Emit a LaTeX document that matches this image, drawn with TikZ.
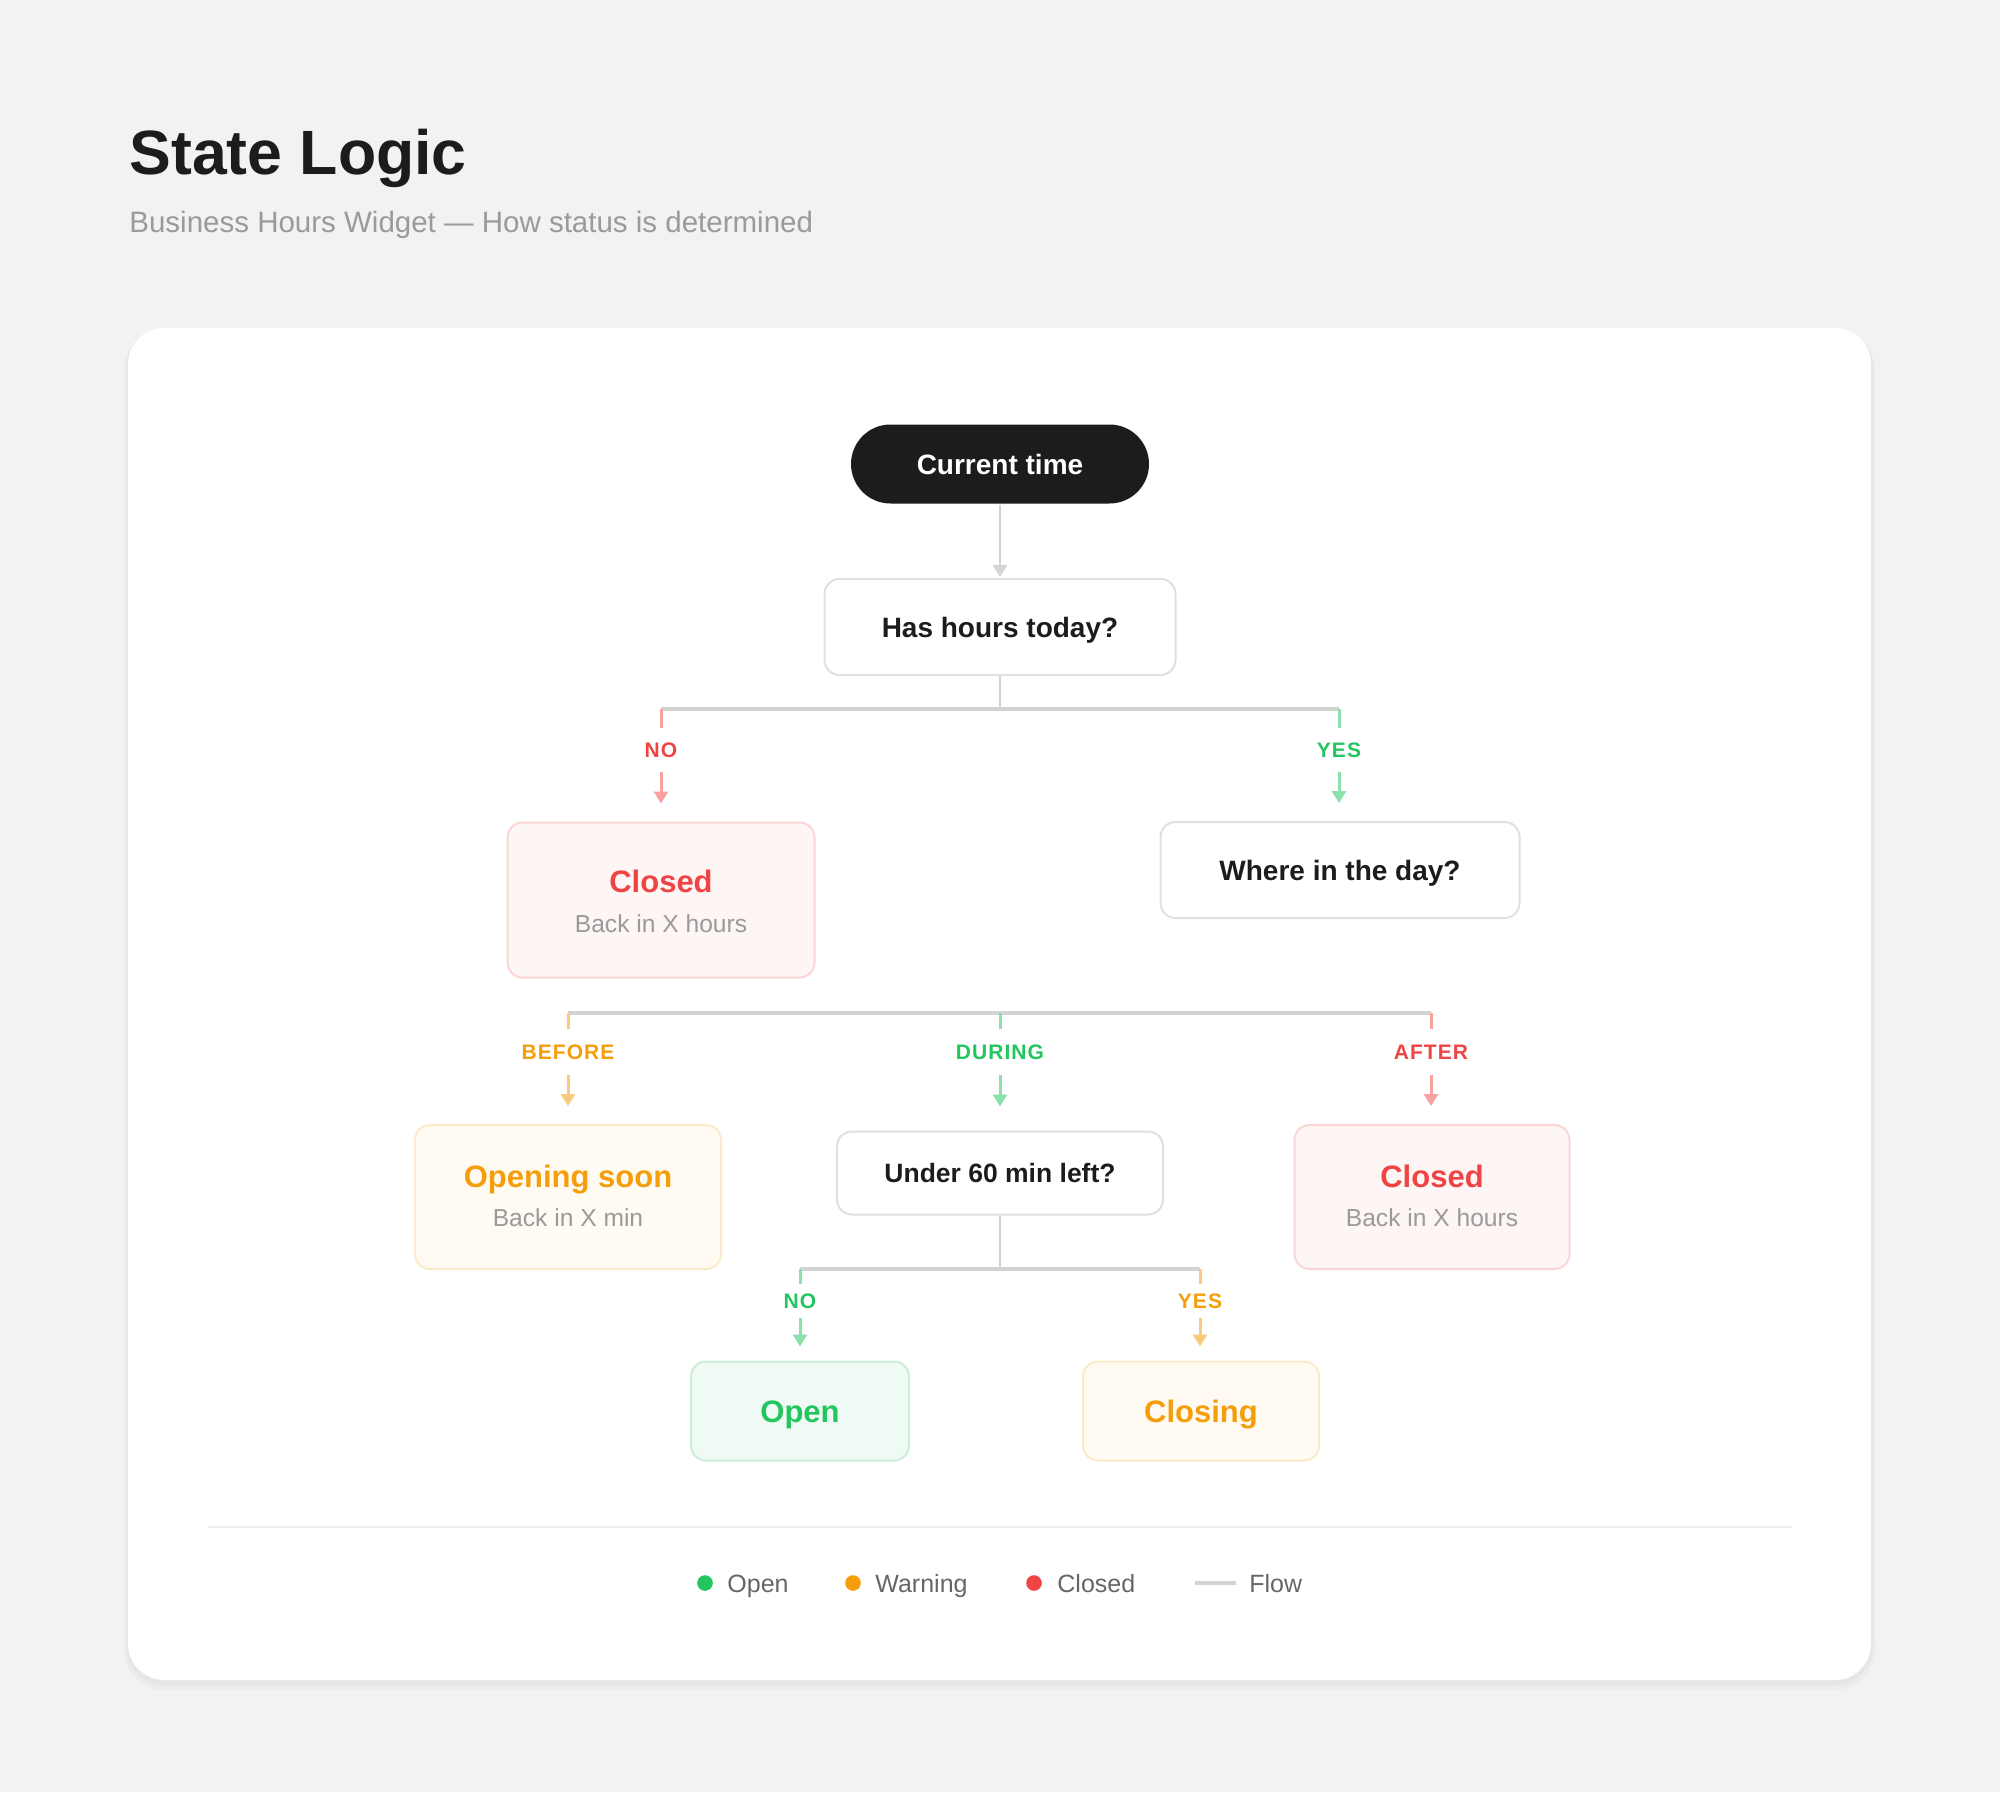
\documentclass[tikz,border=0pt]{standalone}
\usepackage{fontspec}
\setmainfont{Liberation Sans}
\newfontfamily\lblfont[LetterSpace=5]{Liberation Sans}
\usetikzlibrary{arrows.meta}
\definecolor{pagebg}{HTML}{F2F2F2}
\definecolor{inkdark}{HTML}{1C1C1C}
\definecolor{subgray}{HTML}{9A9A9A}
\definecolor{legendgray}{HTML}{666666}
\definecolor{boxborder}{HTML}{E0E0E0}
\definecolor{flowgray}{HTML}{D3D3D3}
\definecolor{cred}{HTML}{EF4444}
\definecolor{credlt}{HTML}{F7A1A1}
\definecolor{credfill}{HTML}{FEF5F5}
\definecolor{credbd}{HTML}{FAD6D6}
\definecolor{corg}{HTML}{F59E0B}
\definecolor{corglt}{HTML}{F8CB7E}
\definecolor{corgfill}{HTML}{FFFAF2}
\definecolor{corgbd}{HTML}{FCEBCB}
\definecolor{cgrn}{HTML}{22C55E}
\definecolor{cgrnlt}{HTML}{8CE0AB}
\definecolor{cgrnfill}{HTML}{F0FAF4}
\definecolor{cgrnbd}{HTML}{CBEED9}
\definecolor{divline}{HTML}{EDEDED}
\begin{document}
\begin{tikzpicture}[x=0.5pt,y=-0.5pt,
  basebox/.style={rounded corners=7.5pt, line width=1pt, align=center, inner sep=0pt, font=\bfseries\fontsize{14}{17}\selectfont},
  qbox/.style={basebox, draw=boxborder, fill=white, text=inkdark},
  redbox/.style={basebox, draw=credbd, fill=credfill},
  orgbox/.style={basebox, draw=corgbd, fill=corgfill},
  grnbox/.style={basebox, draw=cgrnbd, fill=cgrnfill},
  capc/.style={text height=#1, text depth=0pt},
  flow/.style={draw=flowgray, line width=1.3pt},
  busline/.style={draw=flowgray, line width=2pt},
  tickred/.style={draw=credlt, line width=1.5pt},
  tickorg/.style={draw=corglt, line width=1.5pt},
  tickgrn/.style={draw=cgrnlt, line width=1.5pt},
  tip/.style={-{Triangle[width=7pt,length=6pt]}},
  lbl/.style={font=\lblfont\bfseries\fontsize{10.5}{12}\selectfont, inner sep=0pt},
  bigtitle/.style={anchor=base, inner sep=0pt, font=\bfseries\fontsize{15.5}{19}\selectfont},
  smalltext/.style={anchor=base, inner sep=0pt, font=\fontsize{12.3}{15}\selectfont, text=subgray},
  leg/.style={anchor=base west, inner sep=0pt, font=\fontsize{12.5}{15}\selectfont, text=legendgray},
  legdot/.style={circle, inner sep=0pt, minimum size=7.8pt}
]
% page and card
\fill[pagebg] (0,0) rectangle (2000,1792);
\useasboundingbox (0,0) rectangle (2000,1792);
\fill[black, opacity=0.025, rounded corners=20pt] (124,330) rectangle (1875,1690);
\fill[black, opacity=0.025, rounded corners=19pt] (126,329) rectangle (1873,1685);
\fill[white, rounded corners=18pt] (128,328) rectangle (1871,1680);

% header
\node[anchor=base west, inner sep=0pt, font=\bfseries\fontsize{31.3}{38}\selectfont, text=inkdark] (title) at (129,175) {State Logic};
\node[anchor=base west, inner sep=0pt, font=\fontsize{14.75}{17}\selectfont, text=subgray] (subtitle) at (129,233) {Business Hours Widget — How status is determined};

% nodes
\node[basebox, fill=inkdark, text=white, rounded corners=19.75pt, minimum width=149pt, minimum height=39.5pt] (cur) at (1000,464) {Current time};
\node[qbox, capc=10pt, minimum width=175.5pt, minimum height=48pt] (has) at (1000,627) {Has hours today?};
\node[redbox, minimum width=153.5pt, minimum height=77.5pt] (closedA) at (661,900) {};
\node[bigtitle, text=cred] (closedAt) at ([yshift=4pt]closedA.center) {Closed};
\node[smalltext] (closedAs) at ([yshift=-16pt]closedA.center) {Back in X hours};
\node[qbox, capc=10pt, minimum width=179.5pt, minimum height=48pt] (where) at (1340,870) {Where in the day?};

\node[orgbox, minimum width=153pt, minimum height=72pt] (soon) at (568,1197) {};
\node[bigtitle, text=corg] (soont) at ([yshift=5pt]soon.center) {Opening soon};
\node[smalltext] (soons) at ([yshift=-14.5pt]soon.center) {Back in X min};
\node[qbox, minimum width=163pt, minimum height=41.5pt, font=\bfseries\fontsize{13.25}{16}\selectfont] (under) at (1000,1173) {Under 60 min left?};
\node[redbox, minimum width=137.5pt, minimum height=72pt] (closedB) at (1432,1197) {};
\node[bigtitle, text=cred] (closedBt) at ([yshift=5pt]closedB.center) {Closed};
\node[smalltext] (closedBs) at ([yshift=-14.5pt]closedB.center) {Back in X hours};

\node[grnbox, capc=11.1pt, minimum width=109pt, minimum height=49.5pt, text=cgrn, font=\bfseries\fontsize{15.5}{19}\selectfont] (open) at (800,1411) {Open};
\node[orgbox, capc=11.1pt, minimum width=118pt, minimum height=49.5pt, text=corg, font=\bfseries\fontsize{15.5}{19}\selectfont] (closing) at (1201,1411) {Closing};

% first split
\draw[flow, tip, shorten >=0.5pt] (cur.south) -- (has.north);
\coordinate (busA) at (1000,709);
\coordinate (busAl) at (661,709);
\coordinate (busAr) at (1339,709);
\draw[flow] (has.south) -- (busA);
\draw[busline] (busAl) -- (busAr);
\node[lbl, text=cred] (lnoA) at (661,750) {NO};
\node[lbl, text=cgrn] (lyesA) at (1339,750) {YES};
\draw[tickred] (busAl) -- ([yshift=11pt]lnoA.center);
\draw[tickgrn] (busAr) -- ([yshift=11pt]lyesA.center);
\draw[tickred, tip] ([yshift=-11pt]lnoA.center) -- ([yshift=9pt]closedA.north);
\draw[tickgrn, tip] ([yshift=-11pt]lyesA.center) -- ([yshift=9pt]where.north -| lyesA.center);

% second split
\coordinate (busBl) at (568,1013);
\coordinate (busBm) at (1000,1013);
\coordinate (busBr) at (1431,1013);
\draw[busline] (busBl) -- (busBr);
\node[lbl, text=corg] (lbef) at (568,1052) {BEFORE};
\node[lbl, text=cgrn] (ldur) at (1000,1052) {DURING};
\node[lbl, text=cred] (laft) at (1431,1052) {AFTER};
\draw[tickorg] (busBl) -- ([yshift=11.5pt]lbef.center);
\draw[tickgrn] (busBm) -- ([yshift=11.5pt]ldur.center);
\draw[tickred] (busBr) -- ([yshift=11.5pt]laft.center);
\draw[tickorg, tip] ([yshift=-11.5pt]lbef.center) -- ([yshift=9pt]soon.north);
\draw[tickgrn, tip] ([yshift=-11.5pt]ldur.center) -- ([yshift=12pt]under.north);
\draw[tickred, tip] ([yshift=-11.5pt]laft.center) -- ([yshift=9pt]closedB.north -| laft.center);

% third split
\coordinate (busC) at (1000,1269);
\coordinate (busCl) at (800,1269);
\coordinate (busCr) at (1200,1269);
\draw[flow] (under.south) -- (busC);
\draw[busline] (busCl) -- (busCr);
\node[lbl, text=cgrn] (lnoB) at (800,1301) {NO};
\node[lbl, text=corg] (lyesB) at (1200,1301) {YES};
\draw[tickgrn] (busCl) -- ([yshift=8.5pt]lnoB.center);
\draw[tickorg] (busCr) -- ([yshift=8.5pt]lyesB.center);
\draw[tickgrn, tip] ([yshift=-8.5pt]lnoB.center) -- ([yshift=7pt]open.north);
\draw[tickorg, tip] ([yshift=-8.5pt]lyesB.center) -- ([yshift=7pt]closing.north -| lyesB.center);

% divider and legend
\coordinate (divl) at (208,1527);
\coordinate (divr) at (1792,1527);
\draw[divline, line width=1pt] (divl) -- (divr);
\node[legdot, fill=cgrn] (dotopen) at (705,1583) {};
\node[leg] (lgopen) at (727,1592) {Open};
\node[legdot, fill=corg] (dotwarn) at (853,1583) {};
\node[leg] (lgwarn) at (875,1592) {Warning};
\node[legdot, fill=cred] (dotclosed) at (1034,1583) {};
\node[leg] (lgclosed) at (1057,1592) {Closed};
\coordinate (flowl) at (1195,1583);
\coordinate (flowr) at (1236,1583);
\draw[flowgray, line width=2pt] (flowl) -- (flowr);
\node[leg] (lgflow) at (1249,1592) {Flow};
\end{tikzpicture}
\end{document}
